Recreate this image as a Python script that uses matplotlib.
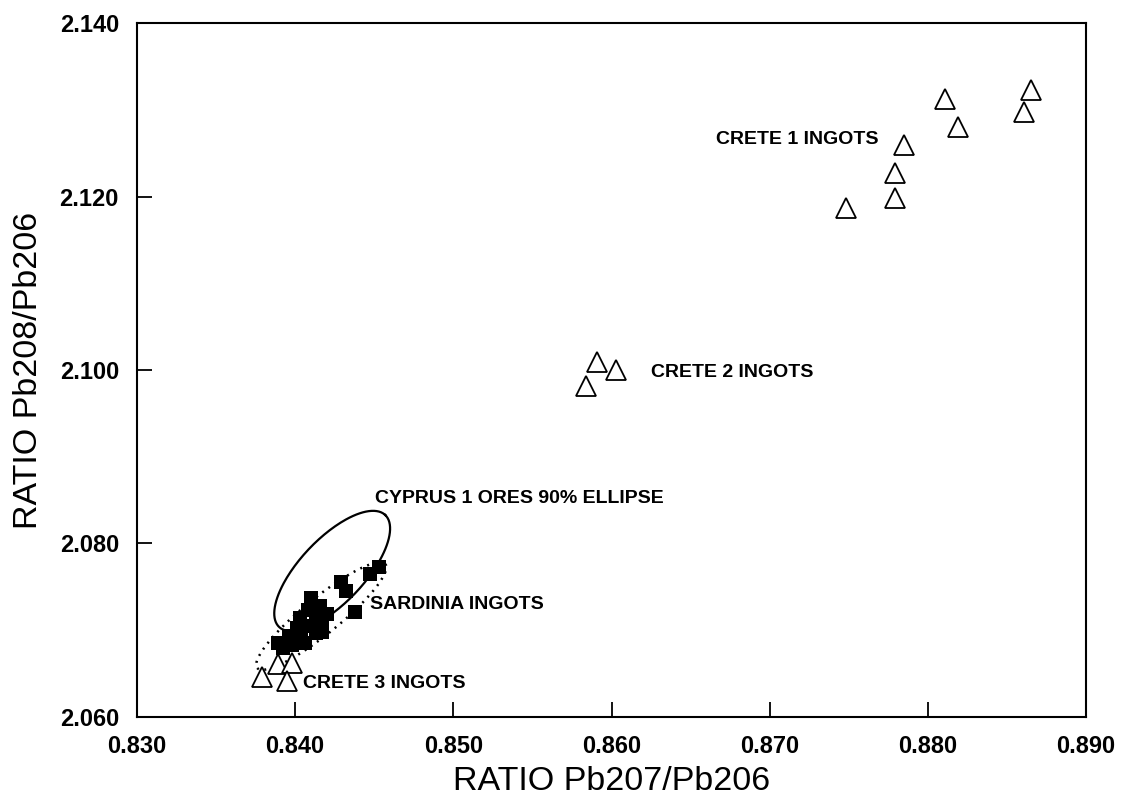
"""Pb isotope ratio plot: Crete / Sardinia ingots vs Cyprus ores."""

import matplotlib
matplotlib.use("Agg")
import matplotlib.pyplot as plt
import numpy as np

plt.rcParams["font.family"] = ["Liberation Sans", "DejaVu Sans"]

# --- data ---
crete1_x = [0.8748, 0.8779, 0.8779, 0.8785, 0.8819, 0.8811, 0.8861, 0.8865]
crete1_y = [2.1187, 2.1198, 2.1227, 2.1259, 2.1280, 2.1312, 2.1297, 2.1323]

crete2_x = [0.8584, 0.8591, 0.8603]
crete2_y = [2.0982, 2.1009, 2.1000]

crete3_x = [0.8379, 0.8389, 0.8398, 0.8395]
crete3_y = [2.0646, 2.0661, 2.0662, 2.0642]

sardinia_x = [0.8453, 0.8447, 0.8429, 0.8432, 0.8438, 0.8410, 0.8416, 0.8420,
              0.8408, 0.8413, 0.8403, 0.8417, 0.8409, 0.8401, 0.8413, 0.8404,
              0.8396, 0.8389, 0.8398, 0.8406, 0.8392, 0.8417]
sardinia_y = [2.0773, 2.0765, 2.0756, 2.0745, 2.0721, 2.0737, 2.0728, 2.0719,
              2.0723, 2.0714, 2.0714, 2.0706, 2.0705, 2.0703, 2.0697, 2.0693,
              2.0693, 2.0685, 2.0683, 2.0685, 2.0680, 2.0698]

# ellipses: centre, half major axis vector, half minor axis vector (data units)
cyprus_center = (0.84234, 2.07683)
cyprus_major = (0.003354, 0.006455)
cyprus_minor = (0.001470, -0.002535)

sardinia_center = (0.84165, 2.07164)
sardinia_major = (0.00405, 0.005994)
sardinia_minor = (0.000722, -0.001602)

x_ticks = [0.830, 0.840, 0.850, 0.860, 0.870, 0.880, 0.890]
y_ticks = [2.060, 2.080, 2.100, 2.120, 2.140]


def ellipse_curve(center, major, minor, n=200):
    t = np.linspace(0, 2 * np.pi, n)
    xs = center[0] + major[0] * np.cos(t) + minor[0] * np.sin(t)
    ys = center[1] + major[1] * np.cos(t) + minor[1] * np.sin(t)
    return xs, ys


fig = plt.figure(figsize=(11.21, 7.97), dpi=100)
ax = fig.add_axes([0.1222, 0.1004, 0.8466, 0.8707])

ex, ey = ellipse_curve(cyprus_center, cyprus_major, cyprus_minor)
ax.plot(ex, ey, color="black", lw=1.6, zorder=2)
ex, ey = ellipse_curve(sardinia_center, sardinia_major, sardinia_minor)
ax.plot(ex, ey, color="black", lw=1.8, linestyle=(0, (0.8, 2.2)), zorder=2)

tri = dict(marker="^", ms=14.5, mfc="white", mec="black", mew=1.3,
           linestyle="none", zorder=3)
ax.plot(crete1_x, crete1_y, **tri)
ax.plot(crete2_x, crete2_y, **tri)
ax.plot(crete3_x, crete3_y, **tri)
ax.plot(sardinia_x, sardinia_y, marker="s", ms=10.5, mfc="black", mec="black",
        mew=0, linestyle="none", zorder=4)

lbl = dict(fontsize=14, fontweight="bold", ha="left", va="center")
ax.text(0.86658, 2.12663, "CRETE 1 INGOTS", **lbl)
ax.text(0.86247, 2.09977, "CRETE 2 INGOTS", **lbl)
ax.text(0.84506, 2.08513, "CYPRUS 1 ORES 90% ELLIPSE", **lbl)
ax.text(0.84475, 2.07291, "SARDINIA INGOTS", **lbl)
ax.text(0.84051, 2.06390, "CRETE 3 INGOTS", **lbl)

ax.set_xlim(0.830, 0.890)
ax.set_ylim(2.060, 2.140)
ax.set_xticks(x_ticks)
ax.set_yticks(y_ticks)
ax.set_xticklabels([f"{v:.3f}" for v in x_ticks])
ax.set_yticklabels([f"{v:.3f}" for v in y_ticks])
ax.tick_params(direction="in", length=11, width=1.3, top=False, right=False,
               labelsize=17, pad=13)
for t in ax.get_xticklabels() + ax.get_yticklabels():
    t.set_fontweight("bold")
for s in ax.spines.values():
    s.set_linewidth(1.5)

ax.set_xlabel("RATIO Pb207/Pb206", fontsize=24.5)
ax.set_ylabel("RATIO Pb208/Pb206", fontsize=24.5)
ax.xaxis.set_label_coords(0.5, -0.071)
ax.yaxis.set_label_coords(-0.098, 0.5)

fig.savefig("out.png", dpi=100)
